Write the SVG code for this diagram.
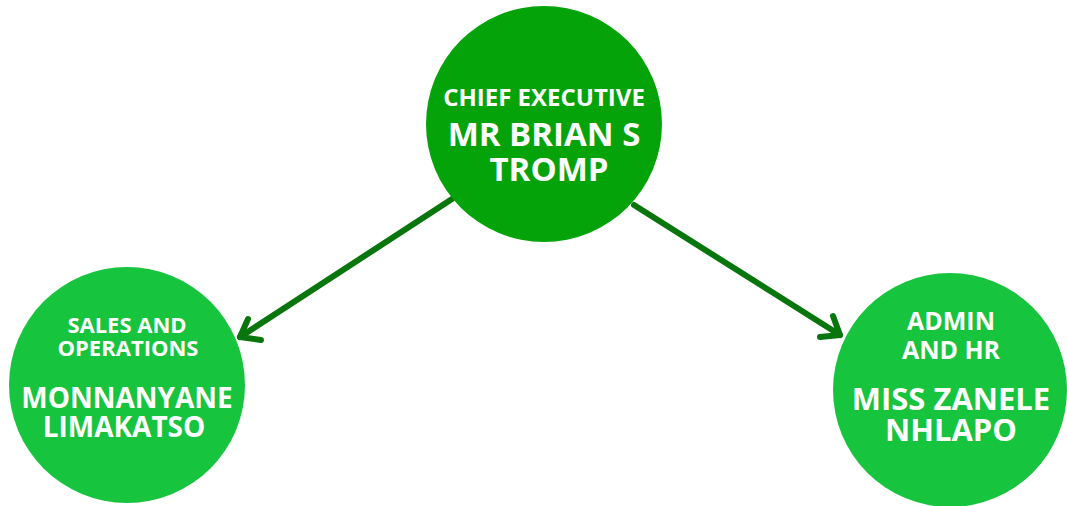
<svg xmlns="http://www.w3.org/2000/svg" width="1067" height="506" viewBox="0 0 1067 506">
<style>
.t{font-family:"Open Sans","Liberation Sans",sans-serif;font-weight:700;fill:#ffffff;text-anchor:middle}
.conn{stroke:#08760c;stroke-width:6;fill:none;stroke-linecap:round;stroke-linejoin:round}
</style>
<rect width="1067" height="506" fill="#ffffff"/>
<g id="connectors">
<path class="conn" d="M452,199 L240,337"/>
<path class="conn" d="M248,319 L240,337 L261,340"/>
<path class="conn" d="M634,205 L840,335"/>
<path class="conn" d="M833,316 L840,335 L820,337"/>
</g>
<g id="node-chief">
<circle cx="544" cy="124" r="118" fill="#04a30a"/>
<text class="t" x="544" y="106" font-size="24">CHIEF EXECUTIVE</text>
<text class="t" x="544" y="146" font-size="33">MR BRIAN S</text>
<text class="t" x="549" y="181" font-size="33">TROMP</text>
</g>
<g id="node-sales">
<circle cx="127" cy="385" r="118" fill="#17c43e"/>
<text class="t" x="127" y="333" font-size="22">SALES AND</text>
<text class="t" x="128" y="356" font-size="22">OPERATIONS</text>
<text class="t" x="127" y="408" font-size="28">MONNANYANE</text>
<text class="t" x="124" y="437" font-size="28">LIMAKATSO</text>
</g>
<g id="node-admin">
<circle cx="950" cy="390" r="117" fill="#17c43e"/>
<text class="t" x="951" y="330" font-size="25">ADMIN</text>
<text class="t" x="951" y="359" font-size="25">AND HR</text>
<text class="t" x="951" y="410" font-size="31">MISS ZANELE</text>
<text class="t" x="951" y="441" font-size="31">NHLAPO</text>
</g>
</svg>
